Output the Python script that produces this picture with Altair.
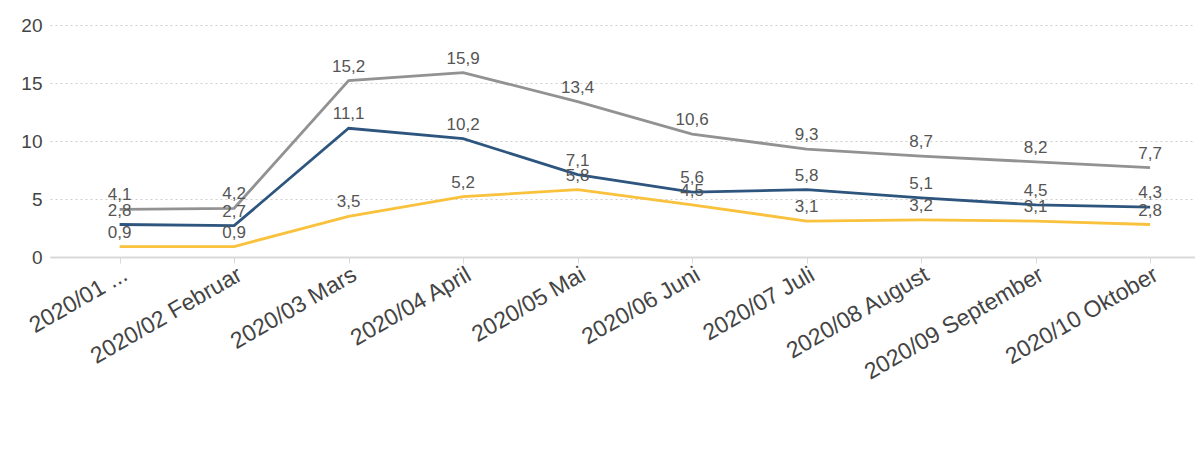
import altair as alt
import pandas as pd

months = ["2020/01 ...", "2020/02 Februar", "2020/03 Mars", "2020/04 April", "2020/05 Mai",
          "2020/06 Juni", "2020/07 Juli", "2020/08 August", "2020/09 September", "2020/10 Oktober"]
series = ["Arbeidssøker", "Helt ledig", "Delvis ledig"]
arbeidssoker = [4.1, 4.2, 15.2, 15.9, 13.4, 10.6, 9.3, 8.7, 8.2, 7.7]
helt_ledig = [2.8, 2.7, 11.1, 10.2, 7.1, 5.6, 5.8, 5.1, 4.5, 4.3]
delvis_ledig = [0.9, 0.9, 3.5, 5.2, 5.8, 4.5, 3.1, 3.2, 3.1, 2.8]
colors = ["#929292", "#2d557e", "#f9c13c"]

rows = []
for name, vals in zip(series, [arbeidssoker, helt_ledig, delvis_ledig]):
    for m, v in zip(months, vals):
        rows.append({"month": m, "series": name, "value": v})
df = pd.DataFrame(rows)

x = alt.X("month:N", sort=months, title=None,
          scale=alt.Scale(type="point", paddingOuter=0.417, align=0.608),
          axis=alt.Axis(labelAngle=-30, labelFontSize=23, labelColor="#444",
                        labelFont="Liberation Sans", labelAlign="right", labelBaseline="top",
                        domainColor="#d9d9d9", domainWidth=2, tickColor="#d9d9d9",
                        tickSize=6, labelPadding=0, grid=False, labelLimit=300))
y = alt.Y("value:Q", title=None,
          scale=alt.Scale(domain=[0, 20]),
          axis=alt.Axis(values=[0, 5, 10, 15, 20], labelFontSize=19, labelColor="#444",
                        labelFont="Liberation Sans", domain=False, ticks=False,
                        gridColor="#cfcfcf", gridDash=[2, 3], gridWidth=1.2, labelPadding=8))
stroke_line = alt.Stroke("series:N", sort=series,
                         scale=alt.Scale(domain=series, range=colors), legend=None)
color_pt = alt.Color("serie:N", sort=series,
                     scale=alt.Scale(domain=series, range=colors),
                     legend=alt.Legend(title=None, orient="bottom", direction="horizontal",
                                       offset=42,
                                       symbolType="circle", symbolSize=110,
                                       symbolOpacity=1, symbolStrokeWidth=0,
                                       labelFontSize=19, labelFontWeight="bold",
                                       labelFont="Liberation Sans", labelColor="#222",
                                       labelOffset=6, columnPadding=12))

base = alt.Chart(df)
lines = base.mark_line(strokeWidth=2.8).encode(x=x, y=y, stroke=stroke_line)
# legend-only layer: no rows pass the filter, the legend comes from the colour scale's domain
pts = base.transform_calculate(serie="datum.series") \
    .transform_filter("datum.value < -1") \
    .mark_point(filled=True, size=110, opacity=1) \
    .encode(x=x, y=y, color=color_pt)
labels = base.transform_calculate(
    lab="replace(format(datum.value, '.1f'), '.', ',')"
).mark_text(dy=-14, fontSize=17, color="#555", font="Liberation Sans").encode(
    x=x, y=y, text="lab:N")

chart = (lines + pts + labels).properties(width=1145, height=232,
                                          padding={"left": 12, "top": 8, "right": 0, "bottom": 0}) \
    .configure_view(stroke=None)

chart.save("out.html", embed_options={"renderer": "svg", "actions": False})
